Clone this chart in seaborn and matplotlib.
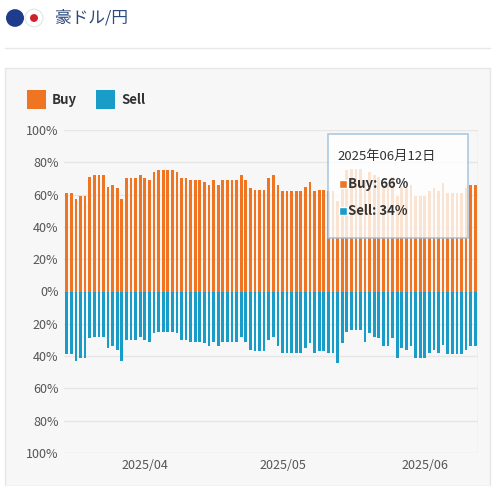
import numpy as np
import pandas as pd
import seaborn as sns
import matplotlib.pyplot as plt
from matplotlib.patches import Rectangle, Circle

# daily Buy share (%), 2025-03-15 .. 2025-06-12
buy = [61, 61, 57, 59, 59, 71, 72, 72, 72, 65, 66, 64, 57, 70, 70, 70, 72, 70, 69, 74,
       75, 75, 75, 75, 74, 70, 70, 69, 69, 69, 68, 66, 69, 66, 69, 69, 69, 69, 72, 69,
       64, 63, 63, 63,
       70, 72, 66, 62, 62, 62, 62, 62, 65, 68, 62, 63, 63, 62, 62, 56, 68, 75, 76, 76,
       76, 69, 74, 72, 71, 66, 66, 71, 59, 65, 64, 66, 59, 59, 59, 62, 64, 62, 67, 61,
       61, 61, 61, 64, 66, 66]
dates = pd.date_range("2025-03-15", periods=len(buy), freq="D")
sell = [100 - b for b in buy]
tick_dates = ["2025-04-01", "2025-05-01", "2025-06-01"]
tick_labels = ["2025/04", "2025/05", "2025/06"]
y_ticks = [100, 80, 60, 40, 20, 0, -20, -40, -60, -80, -100]

BUY_COLOR = "#f07522"
SELL_COLOR = "#1a9cc9"

sns.set_style("white")
plt.rcParams['font.family'] = ['Noto Sans CJK JP', 'DejaVu Sans']

df = pd.DataFrame({"idx": np.arange(len(buy)), "buy": buy, "sell": [-s for s in sell]})

fig = plt.figure(figsize=(4.94, 4.86), dpi=100)

# panel background
fig.patches.append(Rectangle((5 / 494, 0), 485 / 494, (486 - 68) / 486, transform=fig.transFigure,
                             facecolor="#f7f7f7", edgecolor="#e6e6e6", lw=1, zorder=-1))
# header
fig.add_artist(plt.Line2D([5 / 494, 490 / 494], [1 - 48 / 486] * 2, color="#e8e8e8", lw=1))
fig.patches.append(Circle((15 / 494, 1 - 18 / 486), 9 / 494, transform=fig.transFigure,
                          facecolor="#1f3c8c", edgecolor="none"))
fig.patches.append(Circle((34 / 494, 1 - 18 / 486), 9 / 494, transform=fig.transFigure,
                          facecolor="white", edgecolor="#dddddd", lw=0.6))
fig.patches.append(Circle((34 / 494, 1 - 18 / 486), 4 / 494, transform=fig.transFigure,
                          facecolor="#d0202a", edgecolor="none"))
fig.text(55 / 494, 1 - 18 / 486, "豪ドル/円", fontsize=12, color="#2c4a7a", va="center")

ax = fig.add_axes([64 / 494, 33 / 486, 414 / 494, (453 - 130) / 486])
ax.set_zorder(1)
ax.set_facecolor("#f7f7f7")
sns.barplot(data=df, x="idx", y="buy", color=BUY_COLOR, native_scale=True, width=0.6,
            saturation=1, linewidth=0, ax=ax, zorder=2)
sns.barplot(data=df, x="idx", y="sell", color=SELL_COLOR, native_scale=True, width=0.6,
            saturation=1, linewidth=0, ax=ax, zorder=2)

ax.set_ylim(-100, 100)
ax.set_xlim(-0.6, len(buy) - 0.4)
ax.set_yticks(y_ticks)
ax.set_yticklabels([f"{abs(v)}%" for v in y_ticks], fontsize=9, color="#555555")
ax.set_xticks([int((pd.Timestamp(d) - dates[0]).days) for d in tick_dates])
ax.set_xticklabels(tick_labels, fontsize=9, color="#555555")
ax.tick_params(axis="both", length=0, pad=4)
ax.grid(axis="y", color="#e6e6e6", lw=1, zorder=0)
ax.set_axisbelow(True)
ax.set_xlabel("")
ax.set_ylabel("")
for s in ["top", "right", "left", "bottom"]:
    ax.spines[s].set_visible(False)
ax.axvline(len(buy) - 0.4, color="#dddddd", lw=1)

# legend
fig.patches.append(Rectangle((27 / 494, 1 - 109 / 486), 19 / 494, 19 / 486, transform=fig.transFigure,
                             facecolor=BUY_COLOR, edgecolor="none"))
fig.text(52 / 494, 1 - 100 / 486, "Buy", fontsize=9.5, weight="bold", color="#333333", va="center")
fig.patches.append(Rectangle((96 / 494, 1 - 109 / 486), 19 / 494, 19 / 486, transform=fig.transFigure,
                             facecolor=SELL_COLOR, edgecolor="none"))
fig.text(121 / 494, 1 - 100 / 486, "Sell", fontsize=9.5, weight="bold", color="#333333", va="center")

# tooltip for last day
last = len(buy) - 1
fig.patches.append(Rectangle((328 / 494, 1 - 238 / 486), 140 / 494, 104 / 486, transform=fig.transFigure,
                             facecolor="white", alpha=0.8, edgecolor="#9bbbd8", lw=1.2, zorder=5))
fig.text(337 / 494, 1 - 156 / 486, f"{dates[last].year}年{dates[last].month:02d}月{dates[last].day}日",
         fontsize=9.5, color="#333333", va="center", zorder=6)
fig.patches.append(Rectangle((339 / 494, 1 - 188 / 486), 8 / 494, 8 / 486, transform=fig.transFigure,
                             facecolor=BUY_COLOR, zorder=6))
fig.text(348 / 494, 1 - 184 / 486, f"Buy: {buy[last]}%", fontsize=9.5, weight="bold",
         color="#333333", va="center", zorder=6)
fig.patches.append(Rectangle((339 / 494, 1 - 215 / 486), 8 / 494, 8 / 486, transform=fig.transFigure,
                             facecolor=SELL_COLOR, zorder=6))
fig.text(348 / 494, 1 - 211 / 486, f"Sell: {sell[last]}%", fontsize=9.5, weight="bold",
         color="#333333", va="center", zorder=6)

fig.savefig("out.png", dpi=100)
plt.close(fig)
